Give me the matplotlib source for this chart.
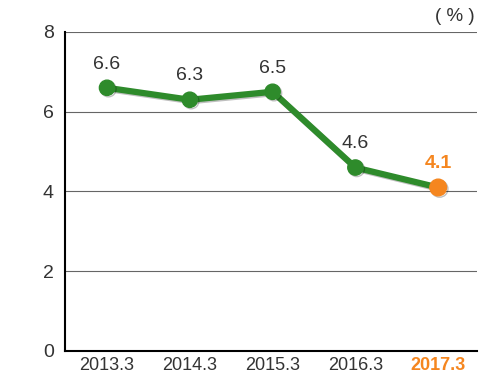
import matplotlib
matplotlib.use("Agg")
import matplotlib.pyplot as plt
import matplotlib.patheffects as pe

years = ["2013.3", "2014.3", "2015.3", "2016.3", "2017.3"]
values = [6.6, 6.3, 6.5, 4.6, 4.1]
labels = ["6.6", "6.3", "6.5", "4.6", "4.1"]

green = "#2e8b2b"
orange = "#f5861f"
text_col = "#333333"

plt.rcParams["font.family"] = ["Liberation Sans", "DejaVu Sans"]

fig = plt.figure(figsize=(4.8, 3.76), dpi=100)
ax = fig.add_axes([0.135, 0.0665, 0.859, 0.8485])

x = list(range(len(years)))
shadow = [pe.SimpleLineShadow(offset=(1, -1), alpha=0.25), pe.Normal()]
ax.plot(x[:4], values[:4], color=green, lw=4.5, marker="o", ms=11,
        path_effects=shadow, zorder=3, solid_capstyle="round")
ax.plot(x[3:], values[3:], color=green, lw=4.5, zorder=2,
        path_effects=shadow, solid_capstyle="round")
ax.plot(x[4], values[4], "o", color=orange, ms=12, zorder=4,
        path_effects=shadow)

for i, (v, s) in enumerate(zip(values, labels)):
    c = orange if i == 4 else text_col
    w = "bold" if i == 4 else "normal"
    ax.annotate(s, (i, v), xytext=(0, 11), textcoords="offset points",
                ha="center", va="bottom", fontsize=14, color=c, fontweight=w)

ax.set_ylim(0, 8)
ax.set_xlim(-0.51, 4.47)
ax.set_yticks([0, 2, 4, 6, 8])
ax.set_xticks(x)
ax.set_xticklabels(years)
ax.tick_params(length=0, labelsize=13, colors=text_col, pad=4)
ax.tick_params(axis="y", pad=8, labelsize=14)
last = ax.get_xticklabels()[-1]
last.set_color(orange)
last.set_fontweight("bold")
ax.grid(axis="y", color="#666666", lw=0.8)
ax.set_axisbelow(True)
for s in ["top", "right"]:
    ax.spines[s].set_visible(False)
ax.spines["left"].set_linewidth(1.5)
ax.spines["bottom"].set_linewidth(1.5)

fig.text(0.988, 0.955, "( % )", ha="right", va="center", fontsize=13.5,
         color=text_col)

fig.savefig("out.png", dpi=100)
